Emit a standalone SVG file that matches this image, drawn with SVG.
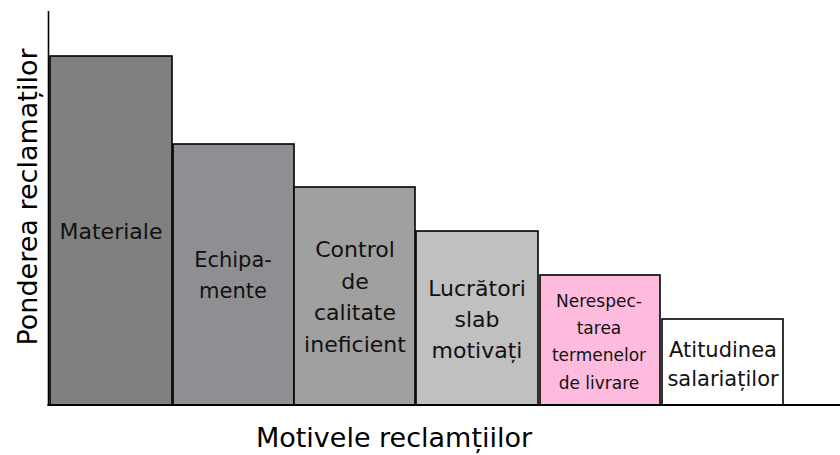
<svg xmlns="http://www.w3.org/2000/svg" width="840" height="455" viewBox="0 0 840 455">
  <style>
    .bar { stroke: #000; stroke-width: 1.6; }
    .lbl { font-family: "DejaVu Sans", "Liberation Sans", sans-serif; fill: #111; text-anchor: middle; }
    .axis { stroke: #000; fill: none; }
    .title { font-family: "DejaVu Sans", "Liberation Sans", sans-serif; fill: #000; text-anchor: middle; font-size: 27px; }
  </style>
  <rect width="840" height="455" fill="#fff"/>

  <!-- Pareto bars, tallest to shortest -->
  <g id="bar-materiale">
    <rect class="bar" x="50" y="56" width="122" height="349" fill="#808080"/>
    <text class="lbl" x="111" y="239" font-size="22">Materiale</text>
  </g>
  <g id="bar-echipamente">
    <rect class="bar" x="173" y="144" width="121" height="261" fill="#8f8e93"/>
    <text class="lbl" x="233" y="267" font-size="21">Echipa-</text>
    <text class="lbl" x="233" y="298" font-size="21">mente</text>
  </g>
  <g id="bar-control">
    <rect class="bar" x="294" y="187" width="121" height="218" fill="#a0a0a0"/>
    <text class="lbl" x="355" y="257" font-size="22">Control</text>
    <text class="lbl" x="355" y="289" font-size="22">de</text>
    <text class="lbl" x="355" y="320" font-size="22">calitate</text>
    <text class="lbl" x="355" y="352" font-size="22">ineficient</text>
  </g>
  <g id="bar-lucratori">
    <rect class="bar" x="416" y="231" width="122" height="174" fill="#c0c0c0"/>
    <text class="lbl" x="477" y="296" font-size="22">Lucrători</text>
    <text class="lbl" x="477" y="327" font-size="22">slab</text>
    <text class="lbl" x="477" y="358" font-size="22">motivați</text>
  </g>
  <g id="bar-nerespectarea">
    <rect class="bar" x="540" y="275" width="120" height="130" fill="#ffbbdd"/>
    <text class="lbl" x="599" y="307" font-size="17">Nerespec-</text>
    <text class="lbl" x="599" y="334" font-size="17">tarea</text>
    <text class="lbl" x="599" y="361" font-size="17">termenelor</text>
    <text class="lbl" x="599" y="389" font-size="17">de livrare</text>
  </g>
  <g id="bar-atitudinea">
    <rect class="bar" x="662" y="319" width="121" height="86" fill="#ffffff"/>
    <text class="lbl" x="723" y="357" font-size="21">Atitudinea</text>
    <text class="lbl" x="723" y="386" font-size="21">salariaților</text>
  </g>

  <!-- axes -->
  <g id="axes">
    <line class="axis" x1="48.5" y1="11" x2="48.5" y2="406" stroke-width="1.6"/>
    <line class="axis" x1="47.5" y1="405" x2="840" y2="405" stroke-width="2"/>
  </g>

  <text class="title" x="0" y="0" transform="translate(37,197) rotate(-90)">Ponderea reclamaților</text>
  <text class="title" x="394" y="447">Motivele reclamțiilor</text>
</svg>
